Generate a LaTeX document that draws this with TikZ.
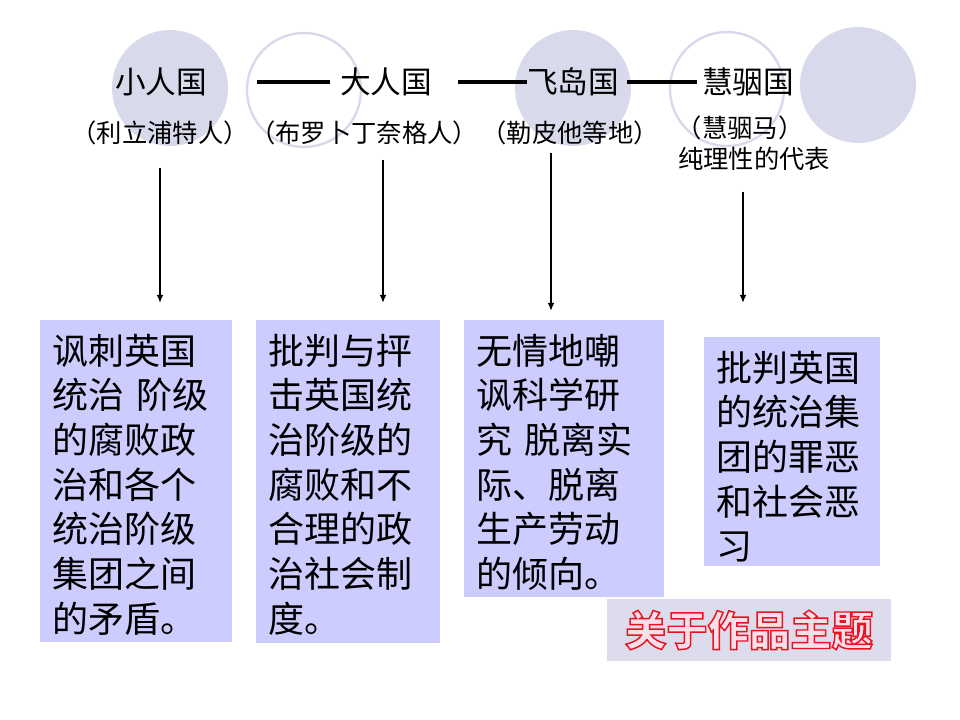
\documentclass[tikz,border=0pt]{standalone}
\usepackage{fontspec}
\newfontfamily\cjk{Noto Sans CJK SC}
\usepackage{tikz}
\usetikzlibrary{arrows.meta}

\definecolor{boxblue}{RGB}{204,204,255}
\definecolor{ballgray}{RGB}{217,217,236}
\definecolor{tagfill}{RGB}{220,220,236}
\definecolor{tagpink}{RGB}{250,222,234}
% red outline for the title tag
\newcommand\redoutline[1]{\special{pdf:literal direct 0.91 0.08 0.12 RG 2 Tr 1.1 w}#1\special{pdf:literal direct 0 Tr}}

\begin{document}
\begin{tikzpicture}[
    x=0.75pt, y=-0.75pt,
    ball/.style={
        circle,
        minimum size=87pt,
        inner sep=0pt,
        fill=ballgray
    },
    ring/.style={
        circle,
        minimum size=85.5pt,
        inner sep=0pt,
        draw=ballgray,
        line width=1.8pt
    },
    realm/.style={inner sep=0pt, font=\cjk\fontsize{23}{26}\selectfont},
    note/.style={inner sep=0pt, font=\cjk\fontsize{19}{22}\selectfont},
    theme/.style={
        rectangle,
        fill=boxblue,
        anchor=north west,
        align=left,
        inner xsep=9pt,
        inner ysep=9pt,
        text height=24pt,
        font=\cjk\fontsize{27}{33.5}\selectfont
    },
    tag/.style={
        fill=tagfill,
        minimum width=213pt,
        minimum height=46.5pt,
        inner sep=0pt,
        text=tagpink,
        font=\cjk\bfseries\fontsize{31}{34}\selectfont
    },
    bar/.style={draw, line width=3pt},
    line/.style={draw, line width=1.5pt, -{Latex[length=6pt, width=5pt]}}
]
\useasboundingbox (0,0) rectangle (960,720);

% background circles
\node (ball1) [ball] at (170,88) {};
\node (ring1) [ring] at (304,90) {};
\node (ball2) [ball] at (573,88) {};
\node (ring2) [ring] at (727,89) {};
\node (ball3) [ball] at (858,85) {};

% the four countries
\node (xiao) [realm] at (161,82) {小人国};
\node (daren) [realm] at (386,82) {大人国};
\node (feidao) [realm] at (573,82) {飞岛国};
\node (huiyin) [realm] at (748,82) {慧骃国};

\path [bar, shorten <=37.5pt, shorten >=7.5pt] (xiao) -- (daren);
\path [bar, shorten <=19.5pt] (daren) -- (feidao);
\path [bar, shorten <=6pt, shorten >=3.75pt] (feidao) -- (huiyin);

\node (lilipu) [note] at (160,133) {（利立浦特人）};
\node (bulob) [note] at (364,133) {（布罗卜丁奈格人）};
\node (lapu) [note] at (570,133) {（勒皮他等地）};
\node (huima) [note] at (740,128) {（慧骃马）};
\node (reason) [note] at (754,159) {纯理性的代表};

% themes
\node (sat) [theme, text width=126pt, text depth=199.5pt] at (40,320)
    {讽刺英国\\统治 阶级\\的腐败政\\治和各个\\统治阶级\\集团之间\\的矛盾。};
\node (crit) [theme, text width=120pt, text depth=200pt] at (256,320)
    {批判与抨\\击英国统\\治阶级的\\腐败和不\\合理的政\\治社会制\\度。};
\node (mock) [theme, text width=132pt, text depth=165.75pt] at (464,320)
    {无情地嘲\\讽科学研\\究 脱离实\\际、脱离\\生产劳动\\的倾向。};
\node (evil) [theme, text width=114pt, text depth=129.75pt] at (704,337)
    {批判英国\\的统治集\\团的罪恶\\和社会恶\\习};

\coordinate (a1) at (160,168);
\coordinate (a2) at (383,160);
\coordinate (a3) at (551,153);
\coordinate (a4) at (743,192);

\path [line, shorten >=12.75pt] (a1) -- (a1 |- sat.north);
\path [line, shorten >=12.75pt] (a2) -- (a2 |- crit.north);
\path [line, shorten >=6.75pt] (a3) -- (a3 |- mock.north);
\path [line, shorten >=25.5pt] (a4) -- (a4 |- evil.north);

% title tag
\node (tag) [tag] at (749,630) {\redoutline{关于作品主题}};

\end{tikzpicture}
\end{document}
